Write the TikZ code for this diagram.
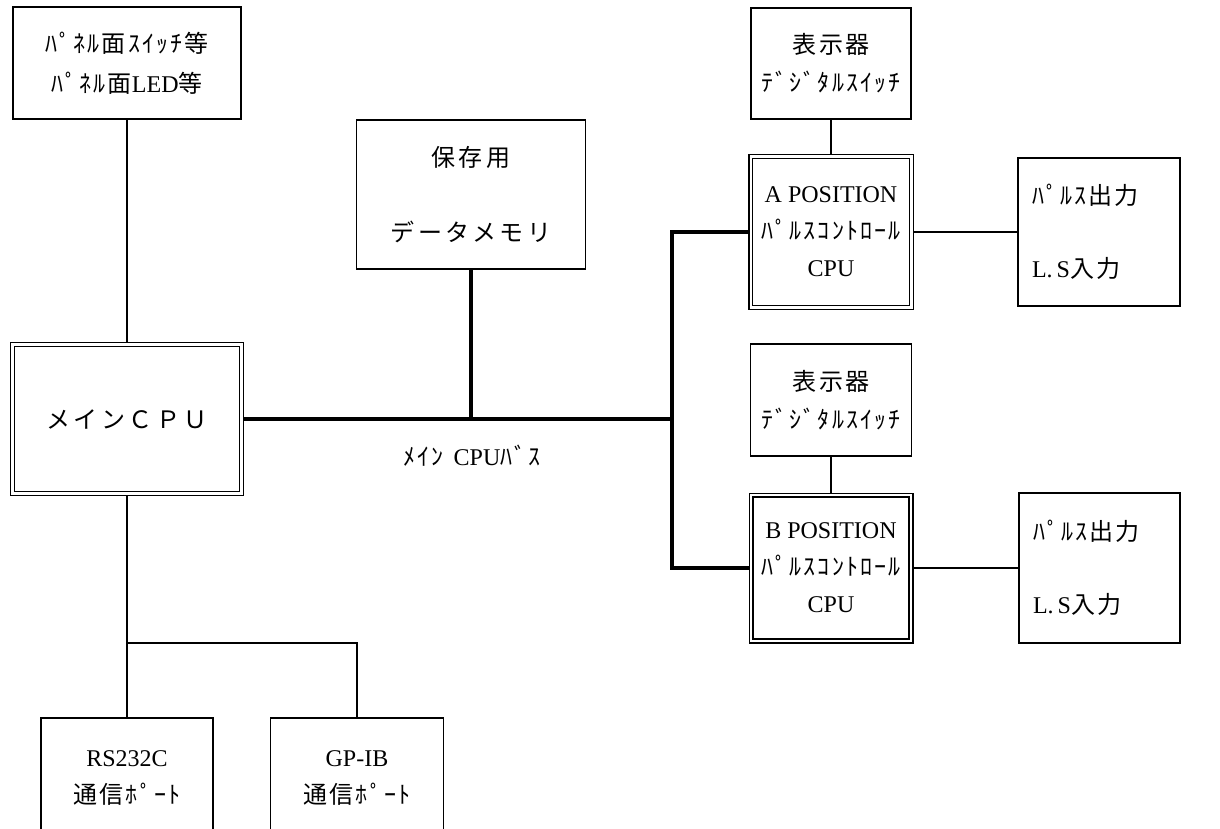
\documentclass[tikz,border=0pt]{standalone}
\usepackage{fontspec}
\setmainfont{Liberation Serif}
\newfontfamily\jp[LetterSpace=9]{Noto Sans CJK JP}
\newfontfamily\jpw[LetterSpace=14]{Noto Sans CJK JP}
\usetikzlibrary{backgrounds}
\tikzset{
  box/.style={draw, line width=1.6pt, inner sep=0pt, align=center},
  dbox/.style={draw, line width=1.5pt, double, double distance=2.4pt, inner sep=0pt, align=center},
  fs/.style={font=\fontsize{24}{#1}\selectfont},
  thin/.style={line width=1.5pt},
  bus/.style={line width=4.5pt}
}
\begin{document}
\begin{tikzpicture}[x=1pt,y=-1pt]
\clip (0,0) rectangle (1220,829);
% left column
\node[box, fs=40, minimum width=228pt, minimum height=112pt] (panel) at (127,63)
  {{\jp ﾊﾟﾈﾙ面ｽｲｯﾁ等}\\{\jp ﾊﾟﾈﾙ面}LED{\jp 等}};
\node[dbox, fs=30, minimum width=228.8pt, minimum height=148.8pt] (main) at (127,419)
  {\jpw メインＣＰＵ};
\node[box, minimum width=172pt, minimum height=200pt] (rs) at (127,818) {};
\node[box, minimum width=173pt, minimum height=200pt] (gp) at (357,818) {};
\node[fs=37, align=center] (rstext) at (127,778) {RS232C\\{\jp 通信ﾎﾟｰﾄ}};
\node[fs=37, align=center] (gptext) at (357,778) {GP-IB\\{\jp 通信ﾎﾟｰﾄ}};
% storage
\node[box, fs=75, minimum width=229pt, minimum height=149pt] (store) at (471,194.5)
  {{\jpw 保存用}\\{\jpw データメモリ}};
% A unit
\node[box, fs=38, minimum width=160pt, minimum height=111pt] (dispA) at (831,63.5)
  {{\jp 表示器}\\{\jp ﾃﾞｼﾞﾀﾙｽｲｯﾁ}};
\node[dbox, fs=37, minimum width=160.6pt, minimum height=150.6pt] (cpuA) at (831,232)
  {A POSITION\\{\jp ﾊﾟﾙｽｺﾝﾄﾛｰﾙ}\\CPU};
\node[box, fs=73, align=left, text width=134pt, inner xsep=14pt, minimum height=148pt] (pulseA) at (1099,232)
  {{\jp ﾊﾟﾙｽ出力}\\L.\,S{\jp 入力}};
% B unit
\node[box, fs=38, minimum width=161pt, minimum height=112pt] (dispB) at (831,400)
  {{\jp 表示器}\\{\jp ﾃﾞｼﾞﾀﾙｽｲｯﾁ}};
\node[dbox, fs=37, minimum width=159.6pt, minimum height=145.6pt] (cpuB) at (831,568)
  {B POSITION\\{\jp ﾊﾟﾙｽｺﾝﾄﾛｰﾙ}\\CPU};
\node[box, fs=73, align=left, text width=133pt, inner xsep=14pt, minimum height=150pt] (pulseB) at (1099.5,568)
  {{\jp ﾊﾟﾙｽ出力}\\L.\,S{\jp 入力}};
% bus label
\node[font=\fontsize{24}{28}\selectfont] (buslbl) at (472,456) {{\jp ﾒｲﾝ}\, CPU{\jp ﾊﾞｽ}};
\coordinate (busR) at (672,419);
\coordinate (j) at (127,643);
\begin{pgfonlayer}{background}
  \fill[white] (0,0) rectangle (1220,829);
  \draw[thin] (panel.south) -- (main.north);
  \draw[thin] (main.south) -- (rs.north);
  \draw[thin] (j) -| (gp.north);
  \draw[bus] (main.east) -- (main.east -| busR);
  \draw[bus] (store.south) -- (store.south |- busR);
  \draw[bus] (cpuA.west) -| (busR);
  \draw[bus] (cpuB.west) -| (busR);
  \draw[thin] (dispA.south) -- (cpuA.north);
  \draw[thin] (dispB.south) -- (cpuB.north);
  \draw[thin] (cpuA.east) -- (pulseA.west);
  \draw[thin] (cpuB.east) -- (pulseB.west);
\end{pgfonlayer}
\end{tikzpicture}
\end{document}
